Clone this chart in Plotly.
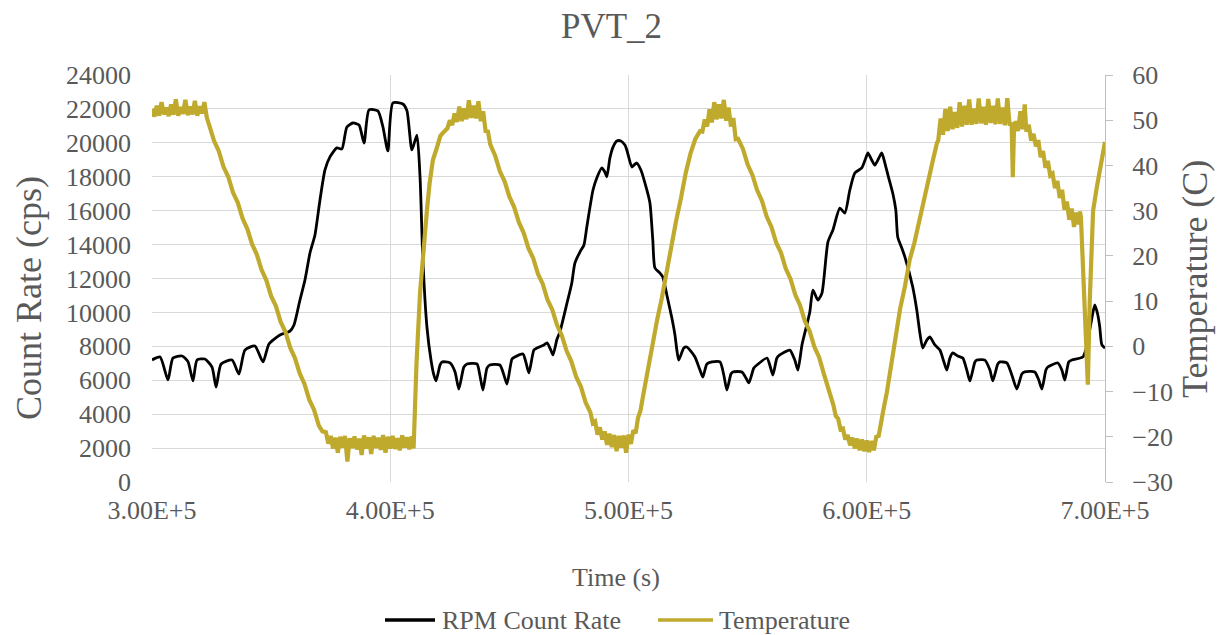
import plotly.graph_objects as go

# ---------------- data ----------------
# RPM count rate: time (ks) and counts (cps)
rpm_t_ks = [300.0, 303.4, 306.7, 308.8, 312.6, 315.1, 317.2, 318.9, 322.2, 325.2, 326.9, 329.0,
            333.6, 336.5, 339.0, 343.2, 346.6, 349.1, 353.7, 357.9, 359.6, 362.1, 364.2, 366.3,
            368.4, 370.5, 372.6, 374.7, 377.6, 379.7, 381.8, 384.3, 386.9, 389.0, 391.1, 394.8,
            396.9, 399.0, 401.1, 405.3, 407.0, 409.1, 411.2, 412.5, 413.7, 415.4, 417.1, 418.3,
            419.2, 420.9, 421.7, 425.1, 427.2, 428.8, 430.9, 432.2, 436.4, 437.6, 438.9, 440.6,
            441.8, 446.0, 447.7, 449.0, 451.1, 452.3, 455.7, 456.9, 458.2, 460.3, 461.6, 464.5,
            465.8, 467.4, 468.3, 470.0, 471.2, 474.2, 476.2, 477.5, 479.6, 481.3, 482.5, 485.1,
            486.7, 488.8, 490.1, 490.9, 492.2, 493.5, 495.1, 496.8, 498.5, 499.3, 501.4, 502.3,
            503.5, 505.2, 507.7, 509.0, 510.2, 511.1, 513.2, 514.4, 516.1, 518.2, 519.5, 520.3,
            521.1, 523.2, 524.5, 525.8, 527.9, 530.0, 531.2, 532.9, 535.0, 538.4, 540.0, 541.3,
            543.0, 543.8, 547.6, 549.3, 550.5, 552.6, 553.9, 558.1, 559.3, 560.6, 562.3, 563.5,
            567.7, 569.8, 571.1, 572.8, 574.0, 576.1, 577.4, 579.5, 581.2, 583.7, 585.8, 588.7,
            590.8, 592.9, 595.0, 597.9, 599.6, 600.5, 602.1, 603.4, 605.1, 606.3, 607.6, 608.9,
            610.9, 612.2, 613.0, 614.7, 616.0, 619.3, 621.0, 622.3, 623.5, 625.2, 626.5, 628.6,
            630.7, 632.4, 633.6, 634.9, 636.1, 638.2, 640.3, 642.0, 643.3, 645.4, 646.2, 649.6,
            651.7, 652.9, 655.0, 655.9, 658.8, 660.9, 663.0, 665.1, 666.3, 670.5, 672.2, 673.5,
            675.2, 676.0, 680.2, 681.9, 683.1, 684.8, 686.1, 690.7, 691.9, 692.8, 694.5, 695.7,
            697.0, 697.8, 698.7, 700.0]
rpm_counts = [7200, 7370, 6020, 7310, 7430, 7100, 5960, 7190, 7250, 6780, 5600, 6960,
              7190, 6370, 7780, 8020, 7080, 8140, 8670, 8900, 9260, 10730, 11910, 13500,
              14570, 16630, 18400, 19170, 19700, 19640, 20930, 21170, 21050, 19990, 21940, 21880,
              20950, 19520, 22350, 22290, 21900, 19580, 20460, 17990, 13090, 9140, 7190, 6310,
              5960, 6900, 7080, 7020, 6490, 5480, 6780, 6960, 6960, 6310, 5425, 6720,
              6900, 6900, 6310, 5780, 7250, 7370, 7550, 7080, 6430, 7780, 7900, 8080,
              8200, 7780, 7490, 8430, 8850, 10560, 11740, 12910, 13560, 13980, 15040, 17220,
              17930, 18520, 18280, 17990, 19110, 19750, 20110, 20110, 19870, 19580, 18575, 18690,
              18810, 18400, 17220, 16450, 14270, 12620, 12320, 12090, 11030, 9670, 8670, 7780,
              7190, 7900, 7960, 7780, 7370, 6600, 6190, 6960, 7080, 7080, 6310, 5425,
              6370, 6490, 6490, 6130, 5840, 6720, 6900, 7310, 6900, 6310, 7310, 7490,
              7780, 7190, 6600, 8080, 8790, 10030, 11320, 10730, 11140, 14150, 14860, 16150,
              15860, 17220, 18220, 18520, 19110, 19400, 18990, 18690, 19110, 19400, 18810, 18100,
              17040, 16040, 14450, 13800, 13270, 11500, 10140, 8790, 7900, 8370, 8550, 8080,
              7780, 7080, 6600, 7310, 7610, 7430, 7310, 6600, 5960, 7080, 7190, 7190,
              6600, 5960, 6960, 7080, 7020, 6310, 5480, 6370, 6490, 6490, 6015, 5480,
              6600, 6780, 7020, 6600, 6015, 7080, 7190, 7370, 7780, 8370, 9670, 10440,
              9850, 9140, 8080, 7900]

# Temperature: time (ks) and degrees C
temp_t_ks = [300, 301, 302, 303, 304, 305, 306, 307, 308, 309, 310, 311, 312, 313, 314, 315, 316,
             317, 318, 319, 320, 321, 322, 323,
             324, 326, 328, 330, 332, 334, 336, 338, 340, 342, 344, 346, 348, 350, 352, 354, 356,
             358, 360, 362, 364, 366, 368, 370, 371.5,
             373, 374, 375, 376, 377, 378, 379, 380, 381, 382, 383, 384, 385, 386, 387, 388, 389,
             390, 391, 392, 393, 394, 395, 396, 397, 398, 399, 400, 401, 402, 403, 404, 405, 406,
             407, 408, 409, 409.8,
             411.0, 412.5, 414.0, 415.4, 416.5, 417.9, 419.5, 421.0, 422.1,
             424, 425, 426, 427, 428, 429, 430, 431, 432, 433, 434, 435, 436, 437, 438, 439, 440,
             441, 442,
             444, 446, 448, 450, 452, 454, 456, 458, 460, 462, 464, 466, 468, 470, 472, 474, 476,
             478, 480, 482, 484,
             485, 486, 487, 488, 489, 490, 491, 492, 493, 494, 495, 496, 497, 498, 499, 500, 501,
             502, 503, 504, 505,
             506, 508, 510, 512, 514, 516, 518, 520, 522, 524, 526, 528, 530,
             531, 532, 533, 534, 535, 536, 537, 538, 539, 540, 541, 542, 543, 544, 545, 546,
             548, 550, 552, 554, 556, 558, 560, 562, 564, 566, 568, 570, 572, 574, 576, 578, 580,
             582, 584,
             586, 587, 588, 589, 590, 591, 592, 593, 594, 595, 596, 597, 598, 599, 600, 601, 602,
             603, 604, 605, 606,
             607, 608.4, 610, 612, 614, 616, 618, 620, 622, 624, 626, 628, 629.5,
             630, 631, 632, 633, 634, 635, 636, 637, 638, 639, 640, 641, 642, 643, 644, 645, 646,
             647, 648, 649, 650, 651, 652, 653, 654, 655, 656, 657, 658, 659, 660, 660.8, 661.3,
             661.8, 662.5, 663.5, 664.5, 665.5, 666.3, 667, 668, 669, 670,
             671, 672, 673, 674, 675, 676, 677, 678, 679, 680, 681, 682, 683, 684, 685, 686, 687,
             688, 689, 689.5, 689.9,
             692.8, 693.6, 694.2, 695.0, 696.5, 698.0, 699.0, 700.0]
temp_c = [52.5, 50.8, 53.2, 51.0, 54.0, 51.3, 52.8, 50.9, 53.5, 51.2, 54.6, 51.0, 52.9, 51.4, 54.5,
          51.1, 53.0, 51.3, 54.3, 51.0, 53.1, 51.5, 54.0, 50.6,
          48.9, 45.5, 43.2, 39.7, 37.5, 34.0, 31.8, 28.3, 26.0, 22.6, 20.3, 16.9, 14.6, 11.1, 8.9,
          5.4, 3.2, -0.3, -2.6, -6.0, -8.3, -11.8, -14.0, -17.5, -18.8,
          -19.0, -21.5, -19.8, -22.6, -20.2, -23.5, -20.0, -22.4, -19.8, -25.5, -20.3, -22.5, -19.9,
          -22.8, -20.4, -24.0, -19.7, -22.6, -20.1, -23.8, -19.8, -22.5, -20.2, -22.9, -19.6, -23.5,
          -20.0, -22.6, -19.8, -22.7, -20.3, -23.0, -19.7, -22.4, -20.1, -22.8, -19.9, -22.6,
          -4.0, 11.8, 22.5, 30.1, 36.0, 41.2, 43.8, 46.5, 47.2,
          48.2, 50.0, 48.9, 51.5, 49.6, 53.0, 49.8, 52.6, 50.2, 54.4, 50.5, 53.2, 50.4, 54.2, 49.8,
          52.0, 47.6, 47.5, 44.6,
          42.2, 38.7, 36.5, 33.1, 30.8, 27.4, 25.1, 21.7, 19.5, 16.0, 13.8, 10.3, 8.1, 4.7, 2.4,
          -1.0, -3.3, -6.7, -8.9, -12.4, -14.6,
          -17.0, -16.6, -19.5, -17.9, -20.6, -18.8, -21.8, -19.3, -22.3, -19.6, -23.2, -19.8, -22.4,
          -19.7, -23.5, -19.5, -21.6, -18.6, -19.2, -15.8, -14.3,
          -11.3, -5.2, -0.3, 5.8, 10.7, 16.8, 21.7, 27.8, 32.7, 38.3, 42.6, 45.8, 47.6,
          47.5, 50.2, 48.6, 52.4, 49.5, 54.0, 50.2, 53.5, 50.4, 54.5, 49.9, 52.8, 48.6, 50.5, 45.8,
          45.9,
          43.7, 40.2, 37.9, 34.5, 32.2, 28.7, 26.4, 22.9, 20.7, 17.2, 14.9, 11.4, 9.1, 5.6, 3.4,
          -0.1, -2.4, -6.1, -9.2,
          -13.0, -15.4, -16.0, -18.4, -18.2, -20.6, -19.6, -21.9, -20.2, -22.6, -20.4, -23.0, -20.6,
          -23.2, -20.8, -23.4, -20.9, -23.0, -20.0, -19.8, -16.5,
          -14.0, -10.3, -4.7, 1.5, 8.3, 13.2, 19.1, 22.9, 27.8, 31.7, 37.3, 41.7, 45.0,
          45.5, 50.4, 46.8, 52.5, 47.6, 53.0, 48.0, 51.8, 48.3, 54.0, 48.6, 53.2, 49.0, 54.6, 49.0,
          52.6, 49.2, 54.8, 49.3, 53.0, 49.0, 54.7, 49.4, 53.2, 49.1, 54.8, 49.2, 52.8, 48.9, 54.9,
          48.8, 49.5, 37.4, 48.0, 49.8, 47.6, 52.0, 48.0, 53.5, 47.5, 49.0, 45.5, 47.0,
          44.2, 45.6, 41.8, 43.2, 39.5, 41.0, 37.8, 38.2, 35.0, 36.6, 32.8, 34.6, 30.2, 32.0, 28.0,
          30.5, 26.4, 29.6, 27.0, 29.8, 28.5,
          -8.5, 10.0, 22.0, 30.0, 35.0, 39.0, 41.5, 45.2]

x_tick_vals = [300000, 400000, 500000, 600000, 700000]
x_tick_text = ["3.00E+5", "4.00E+5", "5.00E+5", "6.00E+5", "7.00E+5"]

TITLE = "PVT_2"
Y1_TITLE = "Count Rate (cps)"
Y2_TITLE = "Temperature (C)"
X_TITLE = "Time (s)"
SERIES_NAMES = ["RPM Count Rate", "Temperature"]

# ---------------- figure ----------------
W, H = 1225, 635
L, R, T, B = 152, 120, 75, 153
PW, PH = W - L - R, H - T - B
FONT = "Liberation Serif, Times New Roman, serif"
GREY = "#595959"
GOLD = "#BFAA2E"
BLACK = "#000000"


def px_to_paper(px, py):
    return (px - L) / PW, (H - B - py) / PH


fig = go.Figure()
fig.add_trace(go.Scatter(
    x=[t * 1000 for t in rpm_t_ks], y=rpm_counts, name=SERIES_NAMES[0],
    mode="lines", line=dict(color=BLACK, width=2.8, shape="spline", smoothing=0.6),
    yaxis="y", showlegend=False))
fig.add_trace(go.Scatter(
    x=[t * 1000 for t in temp_t_ks], y=temp_c, name=SERIES_NAMES[1],
    mode="lines", line=dict(color=GOLD, width=4.2),
    yaxis="y2", showlegend=False))

fig.update_layout(
    width=W, height=H,
    margin=dict(l=L, r=R, t=T, b=B),
    paper_bgcolor="white", plot_bgcolor="white",
    font=dict(family=FONT, color=GREY, size=26),
    showlegend=False,
    xaxis=dict(range=[300000, 700000], tickvals=x_tick_vals, ticktext=x_tick_text,
               showgrid=True, gridcolor="#d9d9d9", gridwidth=1.3, zeroline=False,
               showline=False, ticks="", ticklabelstandoff=10,
               tickfont=dict(family=FONT, size=26, color=GREY)),
    yaxis=dict(range=[0, 24000], dtick=2000, tick0=0, tickformat="d",
               showgrid=True, gridcolor="#d9d9d9", gridwidth=1.3, zeroline=False,
               showline=False, ticks="", ticklabelstandoff=20,
               tickfont=dict(family=FONT, size=26, color=GREY)),
    yaxis2=dict(range=[-30, 60], dtick=10, tick0=-30, overlaying="y", side="right",
                showgrid=False, zeroline=False, showline=True, linecolor="#bfbfbf",
                linewidth=1.3, ticks="outside", ticklen=7, tickcolor="#bfbfbf",
                ticklabelstandoff=14,
                tickfont=dict(family=FONT, size=26, color=GREY)),
)

annos = [
    (TITLE, 611, 27, 0, 35),
    (Y1_TITLE, 29, 298, -90, 36),
    (Y2_TITLE, 1195, 279, -90, 36),
    (X_TITLE, 616, 577, 0, 26),
]
for text, px, py, ang, size in annos:
    ax, ay = px_to_paper(px, py)
    fig.add_annotation(text=text, x=ax, y=ay, xref="paper", yref="paper",
                       xanchor="center", yanchor="middle", showarrow=False,
                       textangle=ang, font=dict(family=FONT, size=size, color=GREY))

# manual legend (line sample + label) below the plot
legend_items = [(SERIES_NAMES[0], BLACK, 385, 435, 440),
                (SERIES_NAMES[1], GOLD, 658, 713, 717)]
LEG_Y = 620
for name, color, x0, x1, xt in legend_items:
    p0x, p0y = px_to_paper(x0, LEG_Y)
    p1x, _ = px_to_paper(x1, LEG_Y)
    fig.add_shape(type="line", xref="paper", yref="paper", x0=p0x, x1=p1x, y0=p0y, y1=p0y,
                  line=dict(color=color, width=3.5))
    tx, ty = px_to_paper(xt, LEG_Y)
    fig.add_annotation(text=name, x=tx, y=ty, xref="paper", yref="paper",
                       xanchor="left", yanchor="middle", showarrow=False,
                       font=dict(family=FONT, size=26, color=GREY))

fig.write_html("out.html")
